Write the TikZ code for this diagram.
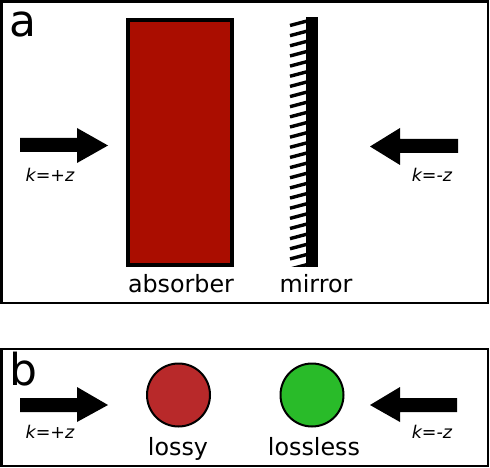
\documentclass[tikz,border=0pt]{standalone}
\usepackage{fontspec}
\setmainfont{DejaVu Sans}
\definecolor{absred}{HTML}{AA0D00}
\definecolor{lossred}{HTML}{B8292A}
\definecolor{lossgreen}{HTML}{29BB29}
\begin{document}
\begin{tikzpicture}[x=1pt,y=-1pt,
  frame/.style={draw=black,line width=2.2pt},
  bigarrow/.style={fill=black},
  hatch/.style={line width=3.4pt},
  klabel/.style={anchor=base,inner sep=0pt,font=\fontsize{17.5}{20}\selectfont\itshape},
  lbl/.style={anchor=base,inner sep=0pt,font=\fontsize{23.8}{27}\selectfont},
  panel/.style={anchor=base west,inner sep=0pt,font=\fontsize{44}{48}\selectfont},
  ball/.style={circle,draw=black,line width=2pt,minimum size=63pt,inner sep=0pt}]
\useasboundingbox (0,0) rectangle (490,468);
% panel a
\draw[frame] (1.5,1.5) rectangle (488,303);
\node[panel] (pa) at (9,37) {a};
\draw[fill=absred,draw=black,line width=4pt] (128,20) rectangle (232,265);
\foreach \i in {0,...,24}{
  \draw[hatch] (290,{25.5+10.15*\i}) -- (307,{21+10.15*\i});
}
\fill[black] (306,17) rectangle (318,267);
\fill[white] (288,267) rectangle (306,272);
\node[lbl] (absl) at (181,292) {absorber};
\node[lbl] (mirl) at (316,292) {mirror};
\fill[bigarrow] (20,138) -- (77,138) -- (77,128) -- (108,145.5) -- (77,163) -- (77,152) -- (20,152) -- cycle;
\fill[bigarrow] (458,139) -- (400,139) -- (400,128) -- (370,146.5) -- (400,165) -- (400,153) -- (458,153) -- cycle;
\node[klabel] (k1) at (50,182) {k=+z};
\node[klabel] (k2) at (432,182) {k=-z};
% panel b
\draw[frame] (1.5,349) rectangle (488,466);
\node[panel] (pb) at (9,385) {b};
\node[ball,fill=lossred] (lossy) at (178.5,395) {};
\node[ball,fill=lossgreen] (lossless) at (312,395) {};
\node[lbl] (lyl) at (178,455) {lossy};
\node[lbl] (lll) at (314,455) {lossless};
\fill[bigarrow] (20,398) -- (77,398) -- (77,387) -- (108,405) -- (77,422) -- (77,412) -- (20,412) -- cycle;
\fill[bigarrow] (457,398) -- (400,398) -- (400,387) -- (370,405) -- (400,422) -- (400,412) -- (457,412) -- cycle;
\node[klabel] (k3) at (50,438) {k=+z};
\node[klabel] (k4) at (432,438) {k=-z};
\end{tikzpicture}
\end{document}
